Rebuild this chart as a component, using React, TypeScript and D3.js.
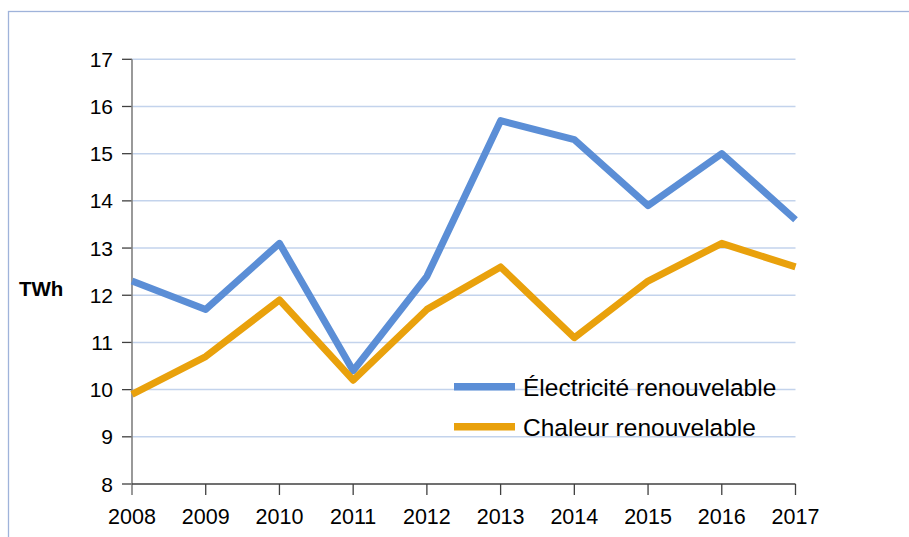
import React from "react";
import * as d3 from "d3";

const years = [2008, 2009, 2010, 2011, 2012, 2013, 2014, 2015, 2016, 2017];
const electricite = [12.3, 11.7, 13.1, 10.4, 12.4, 15.7, 15.3, 13.9, 15.0, 13.6];
const chaleur = [9.9, 10.7, 11.9, 10.2, 11.7, 12.6, 11.1, 12.3, 13.1, 12.6];
const yTicks = [8, 9, 10, 11, 12, 13, 14, 15, 16, 17];
const seriesNames = ["Électricité renouvelable", "Chaleur renouvelable"];
const seriesColors = ["#5b8ed6", "#e9a10c"];

const W = 909;
const H = 537;
const left = 132;
const right = 795.5;
const top = 59.3;
const bottom = 484;

export default function App() {
  const x = d3.scaleLinear().domain([2008, 2017]).range([left, right]);
  const y = d3.scaleLinear().domain([8, 17]).range([bottom, top]);
  const line = d3
    .line<number>()
    .x((_, i) => x(years[i]))
    .y((d) => y(d));
  const series = [electricite, chaleur];
  const font = "'Liberation Sans', Arial, sans-serif";

  return (
    <svg
      width={W}
      height={H}
      style={{ position: "absolute", left: 0, top: 0, background: "#fff" }}
      fontFamily={font}
    >
      <rect x={8.5} y={11.5} width={W + 10} height={H + 10} fill="none" stroke="#9fb3da" strokeWidth={1.3} />
      {yTicks.slice(1).map((t) => (
        <line key={"g" + t} x1={left} x2={right} y1={y(t)} y2={y(t)} stroke="#c3d3ec" strokeWidth={1.5} />
      ))}
      {yTicks.map((t) => (
        <g key={"yt" + t}>
          <line x1={left - 10} x2={left} y1={y(t)} y2={y(t)} stroke="#404040" strokeWidth={1.3} />
          <text x={left - 19} y={y(t)} dy="0.36em" textAnchor="end" fontSize={21} fill="#000">
            {t}
          </text>
        </g>
      ))}
      <line x1={left} x2={left} y1={top} y2={bottom + 11} stroke="#808080" strokeWidth={1.6} />
      <line x1={left} x2={right} y1={bottom} y2={bottom} stroke="#404040" strokeWidth={1.4} />
      {years.map((yr) => (
        <g key={"xt" + yr}>
          {yr !== 2008 && (
            <line x1={x(yr)} x2={x(yr)} y1={bottom} y2={bottom + 11} stroke="#404040" strokeWidth={1.3} />
          )}
          <text x={x(yr)} y={523.5} textAnchor="middle" fontSize={21.5} fill="#000">
            {yr}
          </text>
        </g>
      ))}
      <text x={19} y={296} fontSize={20.5} fontWeight="bold" fill="#000">
        TWh
      </text>
      {series.map((s, i) => (
        <path
          key={"s" + i}
          d={line(s) || ""}
          fill="none"
          stroke={seriesColors[i]}
          strokeWidth={7}
          strokeLinejoin="round"
          strokeLinecap="butt"
        />
      ))}
      {seriesNames.map((n, i) => (
        <g key={"l" + i}>
          <line x1={454} x2={515} y1={386.7 + i * 40} y2={386.7 + i * 40} stroke={seriesColors[i]} strokeWidth={7.5} />
          <text x={523} y={386.7 + i * 40} dy="0.36em" fontSize={24.5} fill="#000">
            {n}
          </text>
        </g>
      ))}
    </svg>
  );
}
